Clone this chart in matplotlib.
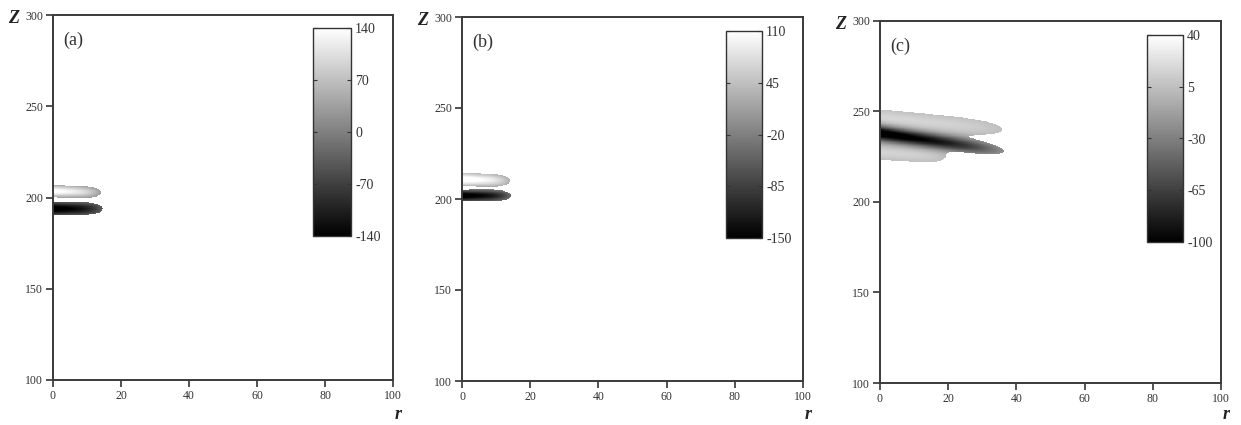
import numpy as np
import matplotlib
matplotlib.use("Agg")
import matplotlib.pyplot as plt

# パネル名
panel_tags = ["(a)", "(b)", "(c)"]

# カラーバーの範囲と目盛り
cbar_min = [-140, -150, -100]
cbar_max = [140, 110, 40]
cbar_ticks = [[-140, -70, 0, 70, 140],
              [-150, -85, -20, 45, 110],
              [-100, -65, -30, 5, 40]]

# 渦の各ローブ: [z中心(r=0), 傾き dz/dr, 半幅, r方向の長さ, 振幅(r=0), 振幅(先端)]
lobes_a = [[203.5, -0.05, 3.2, 14.0, 150, 90],
           [193.8, 0.00, 3.4, 14.5, -160, -100]]
lobes_b = [[210.8, -0.05, 3.4, 14.0, 130, 80],
           [201.8, 0.00, 3.0, 14.3, -170, -110]]
lobes_c = [[246.5, -0.18, 4.6, 35.5, 18, 14],
           [238.0, -0.27, 4.0, 36.0, -120, -60],
           [227.5, -0.12, 4.0, 19.0, 16, 14]]
all_lobes = [lobes_a, lobes_b, lobes_c]

# 格子
r = np.linspace(0, 100, 501)
z = np.linspace(100, 300, 1001)
R, Z = np.meshgrid(r, z)


def make_field(lobes):
    f = np.zeros_like(R)
    env = np.zeros_like(R)
    for zc0, slope, w, L, a0, a1 in lobes:
        zc = zc0 + slope * R
        amp = a0 + (a1 - a0) * np.clip(R / L, 0, 1)
        g = np.exp(-((Z - zc) / w) ** 2) * np.exp(-(R / L) ** 6)
        f += amp * g
        env += g
    return np.ma.masked_where(env < 0.35, f)


plt.rcParams['font.family'] = ['Liberation Serif', 'DejaVu Serif']
plt.rcParams['axes.unicode_minus'] = False
fig = plt.figure(figsize=(12.41, 4.25), dpi=100)
W, H = 1241.0, 425.0

# 軸の位置 (px)
ax_px = [(53, 15, 393, 380), (462, 17, 803, 381), (880, 21, 1221, 383)]
cb_px = [(313, 28, 351, 236), (726, 31, 762, 238), (1147, 35, 1183, 242)]

for i in range(3):
    x0, y0, x1, y1 = ax_px[i]
    ax = fig.add_axes([x0 / W, 1 - y1 / H, (x1 - x0) / W, (y1 - y0) / H])
    field = make_field(all_lobes[i])
    im = ax.pcolormesh(R, Z, field, cmap='gray', vmin=cbar_min[i], vmax=cbar_max[i],
                       shading='auto', rasterized=True)
    ax.set_xlim(0, 100)
    ax.set_ylim(100, 300)
    ax.set_xticks([0, 20, 40, 60, 80, 100])
    ax.set_yticks([100, 150, 200, 250, 300])
    ax.tick_params(direction='out', length=5, width=1.2, labelsize=8.5, pad=2,
                   colors='#333333')
    for s in ax.spines.values():
        s.set_color('#3a3a3a')
        s.set_linewidth(1.4)
    ax.text(0.03, 0.93, panel_tags[i], transform=ax.transAxes, fontsize=13,
            color='#333333', va='center')
    ax.text(-0.115, 0.99, 'Z', transform=ax.transAxes, fontsize=13,
            fontstyle='italic', fontweight='bold', color='#222222', va='center', ha='center')
    # r は軸の右下（100のラベルより下）
    ax.text(1.015, (y1 - 423) / (y1 - y0), 'r', transform=ax.transAxes, fontsize=13,
            fontstyle='italic', fontweight='bold', color='#222222', va='bottom', ha='center')

    cx0, cy0, cx1, cy1 = cb_px[i]
    cax = fig.add_axes([cx0 / W, 1 - cy1 / H, (cx1 - cx0) / W, (cy1 - cy0) / H])
    cb = fig.colorbar(im, cax=cax, ticks=cbar_ticks[i])
    cb.outline.set_edgecolor('#333333')
    cb.outline.set_linewidth(1.0)
    cax.tick_params(direction='in', length=3, width=0.8, left=True, right=True,
                    labelsize=10, pad=3, colors='#333333')

fig.savefig("out.png", dpi=100)
